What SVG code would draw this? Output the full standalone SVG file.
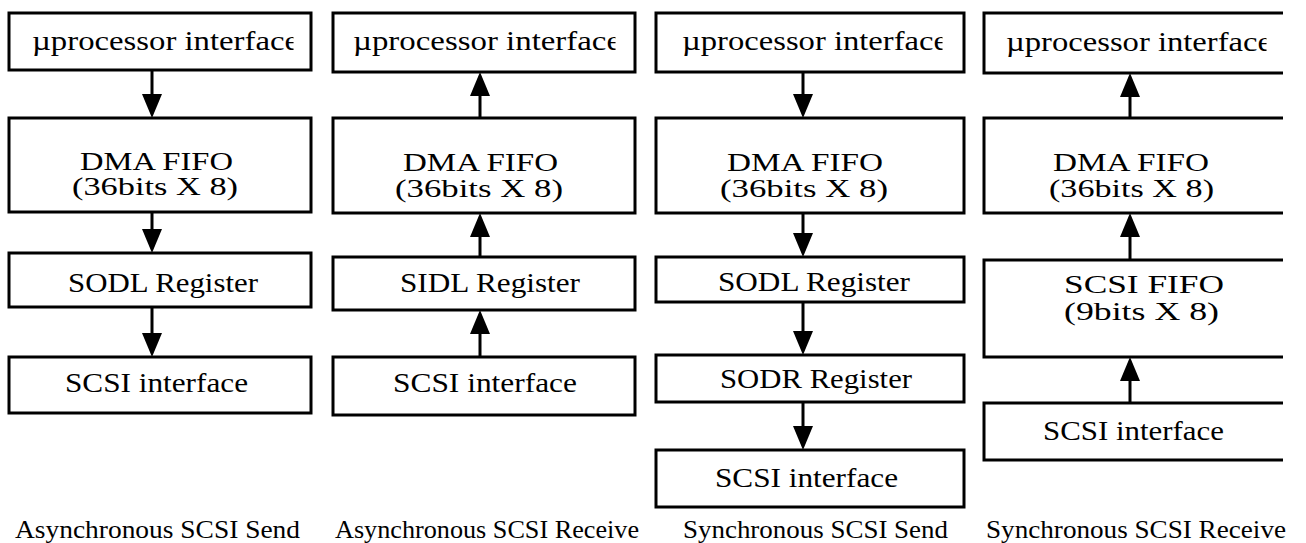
<svg xmlns="http://www.w3.org/2000/svg" width="1306" height="543" viewBox="0 0 1306 543">
<style>
.box{fill:#fff;stroke:#000;stroke-width:3}
.open{fill:none;stroke:#000;stroke-width:3}
.t{font-family:"Liberation Serif","Times New Roman",serif;font-size:27px;fill:#000}
.t2{font-family:"Liberation Serif","Times New Roman",serif;font-size:25px;fill:#000}
.c{font-family:"Liberation Serif","Times New Roman",serif;font-size:26px;fill:#000}
.ln{stroke:#000;stroke-width:3;fill:none}
</style>
<defs>
<marker id="ah" viewBox="0 0 24 20" refX="2" refY="10" markerWidth="24" markerHeight="20" markerUnits="userSpaceOnUse" orient="auto">
<path d="M0,0 L24,10 L0,20 z" fill="#000"/>
</marker>
<clipPath id="cl1" clipPathUnits="userSpaceOnUse"><rect x="10" y="14" width="283.5" height="55"/></clipPath>
<clipPath id="cl2" clipPathUnits="userSpaceOnUse"><rect x="334" y="14" width="281.5" height="57"/></clipPath>
<clipPath id="cl3" clipPathUnits="userSpaceOnUse"><rect x="657" y="14" width="285.5" height="57"/></clipPath>
<clipPath id="cl4" clipPathUnits="userSpaceOnUse"><rect x="985" y="14" width="281.5" height="58"/></clipPath>
</defs>
<rect width="1306" height="543" fill="#fff"/>

<g id="connectors">
<line class="ln" x1="152" y1="70" x2="152" y2="96" marker-end="url(#ah)"/>
<line class="ln" x1="152" y1="212" x2="152" y2="231" marker-end="url(#ah)"/>
<line class="ln" x1="152" y1="307" x2="152" y2="335" marker-end="url(#ah)"/>

<line class="ln" x1="480" y1="118" x2="480" y2="94" marker-end="url(#ah)"/>
<line class="ln" x1="480" y1="257" x2="480" y2="235" marker-end="url(#ah)"/>
<line class="ln" x1="480" y1="357" x2="480" y2="332" marker-end="url(#ah)"/>

<line class="ln" x1="803" y1="72" x2="803" y2="96" marker-end="url(#ah)"/>
<line class="ln" x1="803" y1="213" x2="803" y2="235" marker-end="url(#ah)"/>
<line class="ln" x1="803" y1="302" x2="803" y2="333" marker-end="url(#ah)"/>
<line class="ln" x1="803" y1="402" x2="803" y2="428" marker-end="url(#ah)"/>

<line class="ln" x1="1130" y1="118" x2="1130" y2="95" marker-end="url(#ah)"/>
<line class="ln" x1="1130" y1="260" x2="1130" y2="235" marker-end="url(#ah)"/>
<line class="ln" x1="1130" y1="403" x2="1130" y2="379" marker-end="url(#ah)"/>
</g>

<!-- Column 1 -->
<g id="c1-up">
<rect class="box" x="9" y="13" width="302" height="57"/>
<text class="t" x="32" y="50" textLength="267" lengthAdjust="spacingAndGlyphs" clip-path="url(#cl1)">µprocessor interface</text>
</g>
<g id="c1-dma">
<rect class="box" x="9" y="118" width="302" height="94"/>
<text class="t2" x="80" y="170" textLength="153" lengthAdjust="spacingAndGlyphs">DMA FIFO</text>
<text class="t2" x="72" y="195" textLength="166" lengthAdjust="spacingAndGlyphs">(36bits X 8)</text>
</g>
<g id="c1-sodl">
<rect class="box" x="9" y="253" width="302" height="54"/>
<text class="t" x="68" y="292" textLength="190" lengthAdjust="spacingAndGlyphs">SODL Register</text>
</g>
<g id="c1-scsi">
<rect class="box" x="9" y="357" width="302" height="56"/>
<text class="t" x="65" y="392" textLength="183" lengthAdjust="spacingAndGlyphs">SCSI interface</text>
</g>
<g id="c1-caption">
<text class="c" x="15" y="538" textLength="285" lengthAdjust="spacingAndGlyphs">Asynchronous SCSI Send</text>
</g>

<!-- Column 2 -->
<g id="c2-up">
<rect class="box" x="333" y="13" width="302" height="59"/>
<text class="t" x="353" y="50" textLength="268" lengthAdjust="spacingAndGlyphs" clip-path="url(#cl2)">µprocessor interface</text>
</g>
<g id="c2-dma">
<rect class="box" x="333" y="118" width="302" height="95"/>
<text class="t2" x="403" y="171" textLength="155" lengthAdjust="spacingAndGlyphs">DMA FIFO</text>
<text class="t2" x="395" y="197" textLength="168" lengthAdjust="spacingAndGlyphs">(36bits X 8)</text>
</g>
<g id="c2-sidl">
<rect class="box" x="333" y="257" width="302" height="53"/>
<text class="t" x="400" y="292" textLength="180" lengthAdjust="spacingAndGlyphs">SIDL Register</text>
</g>
<g id="c2-scsi">
<rect class="box" x="333" y="357" width="302" height="58"/>
<text class="t" x="393" y="392" textLength="184" lengthAdjust="spacingAndGlyphs">SCSI interface</text>
</g>
<g id="c2-caption">
<text class="c" x="335" y="538" textLength="304" lengthAdjust="spacingAndGlyphs">Asynchronous SCSI Receive</text>
</g>

<!-- Column 3 -->
<g id="c3-up">
<rect class="box" x="656" y="13" width="308" height="59"/>
<text class="t" x="682" y="50" textLength="266" lengthAdjust="spacingAndGlyphs" clip-path="url(#cl3)">µprocessor interface</text>
</g>
<g id="c3-dma">
<rect class="box" x="656" y="118" width="308" height="95"/>
<text class="t2" x="727" y="171" textLength="156" lengthAdjust="spacingAndGlyphs">DMA FIFO</text>
<text class="t2" x="720" y="197" textLength="168" lengthAdjust="spacingAndGlyphs">(36bits X 8)</text>
</g>
<g id="c3-sodl">
<rect class="box" x="656" y="257" width="308" height="45"/>
<text class="t" x="718" y="291" textLength="192" lengthAdjust="spacingAndGlyphs">SODL Register</text>
</g>
<g id="c3-sodr">
<rect class="box" x="656" y="355" width="308" height="47"/>
<text class="t" x="720" y="388" textLength="192" lengthAdjust="spacingAndGlyphs">SODR Register</text>
</g>
<g id="c3-scsi">
<rect class="box" x="656" y="450" width="308" height="57"/>
<text class="t" x="715" y="487" textLength="183" lengthAdjust="spacingAndGlyphs">SCSI interface</text>
</g>
<g id="c3-caption">
<text class="c" x="683" y="538" textLength="265" lengthAdjust="spacingAndGlyphs">Synchronous SCSI Send</text>
</g>

<!-- Column 4 (right edges cut off) -->
<g id="c4-up">
<path class="open" d="M1283,13 H984 V73 H1283"/>
<text class="t" x="1006" y="51" textLength="266" lengthAdjust="spacingAndGlyphs" clip-path="url(#cl4)">µprocessor interface</text>
</g>
<g id="c4-dma">
<path class="open" d="M1283,118 H984 V213 H1283"/>
<text class="t2" x="1053" y="171" textLength="156" lengthAdjust="spacingAndGlyphs">DMA FIFO</text>
<text class="t2" x="1049" y="197" textLength="165" lengthAdjust="spacingAndGlyphs">(36bits X 8)</text>
</g>
<g id="c4-scsififo">
<path class="open" d="M1283,260 H984 V357 H1283"/>
<text class="t2" x="1064" y="293" textLength="160" lengthAdjust="spacingAndGlyphs">SCSI FIFO</text>
<text class="t2" x="1064" y="320" textLength="155" lengthAdjust="spacingAndGlyphs">(9bits X 8)</text>
</g>
<g id="c4-scsi">
<path class="open" d="M1283,403 H984 V460 H1283"/>
<text class="t" x="1043" y="440" textLength="181" lengthAdjust="spacingAndGlyphs">SCSI interface</text>
</g>
<g id="c4-caption">
<text class="c" x="986" y="538" textLength="300" lengthAdjust="spacingAndGlyphs">Synchronous SCSI Receive</text>
</g>
</svg>
